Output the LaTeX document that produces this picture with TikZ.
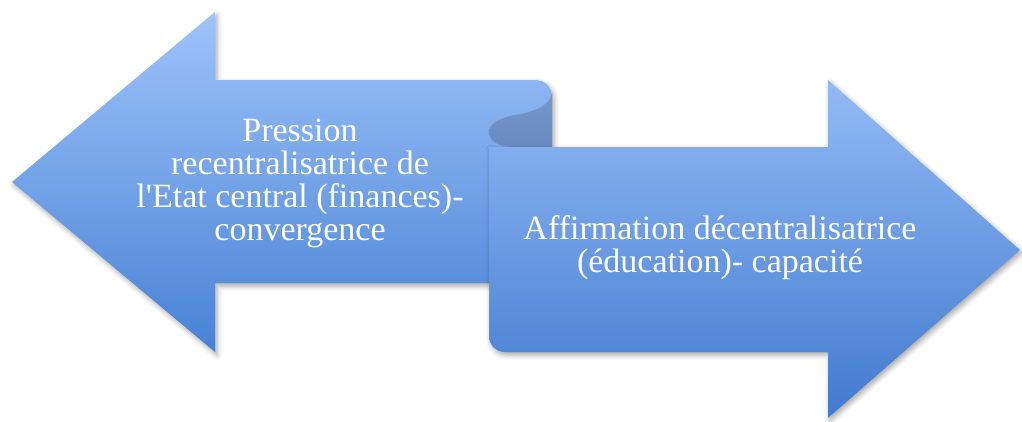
\documentclass[tikz,border=0pt]{standalone}
\usepackage{fontspec}
\setmainfont{Liberation Serif}
\usetikzlibrary{shadows.blur}
\definecolor{ltop}{RGB}{158,195,250}
\definecolor{lbot}{RGB}{72,130,212}
\definecolor{rtop}{RGB}{146,186,246}
\definecolor{rbot}{RGB}{66,122,206}
\definecolor{curltop}{RGB}{118,152,204}
\definecolor{curlbot}{RGB}{104,138,192}
\tikzset{
  arrowshape/.style={blur shadow={shadow xshift=2pt,shadow yshift=-3pt,shadow blur radius=5pt,shadow opacity=35}},
  arrowtext/.style={text=white,font=\fontsize{34}{33}\selectfont,align=center,inner sep=0pt}
}
\begin{document}
\begin{tikzpicture}[x=1pt,y=-1pt]
\useasboundingbox (0,0) rectangle (1022,421);
% left arrow
\path[arrowshape, top color=ltop, bottom color=lbot]
  (12,182) -- (215,12) -- (215,80) -- (535,80)
  .. controls (545,80) and (552,87) .. (552,97)
  -- (552,283) -- (215,283) -- (215,352) -- cycle;
% curl
\path[top color=curltop, bottom color=curlbot]
  (552,93) .. controls (550,105) and (535,112) .. (515,115)
  .. controls (498,118) and (489,125) .. (489,132)
  .. controls (489,141) and (498,147) .. (515,147)
  -- (552,147) -- cycle;
% right arrow
\path[arrowshape, top color=rtop, bottom color=rbot]
  (489,147) -- (828,147) -- (828,80) -- (1020,250) -- (828,418) -- (828,352)
  -- (505,352) .. controls (496,352) and (489,345) .. (489,336) -- cycle;
\node[arrowtext] (lefttext) at (300,183.5)
  {Pression\\recentralisatrice de\\l\textquotesingle{}Etat central (finances)-\\convergence};
\node[arrowtext] (righttext) at (720,248)
  {Affirmation décentralisatrice\\(éducation)- capacité};
\end{tikzpicture}
\end{document}
